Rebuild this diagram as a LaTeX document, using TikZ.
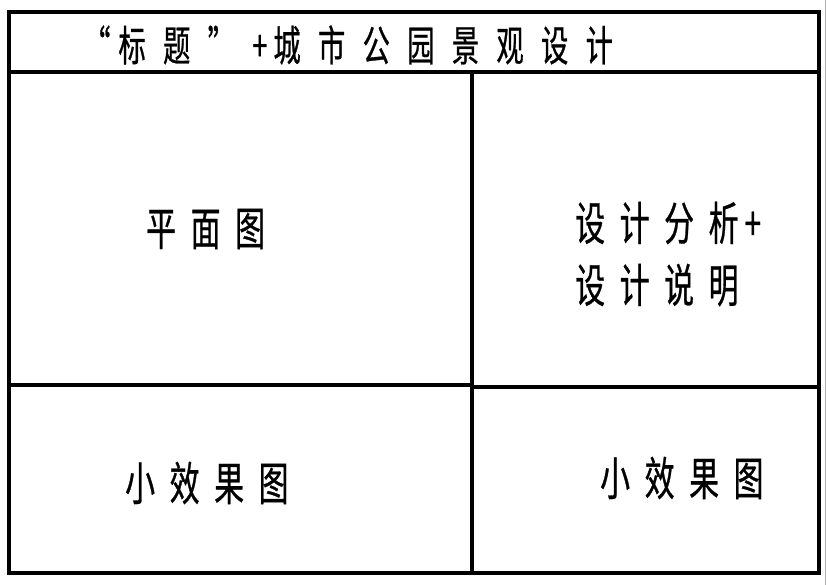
\documentclass[tikz,border=0pt]{standalone}
\usepackage{fontspec}
\newfontfamily\cjk[FakeStretch=0.65,FakeBold=0.6]{Noto Sans CJK SC}
\newcommand\gb{\hspace{14.6pt}}
\newcommand\gt{\hspace{17.3pt}}
\begin{document}
\begin{tikzpicture}[x=1pt,y=-1pt,
  frame/.style={line width=4.5pt,line cap=rect},
  divider/.style={line width=3.6pt},
  bodytext/.style={inner sep=0pt,anchor=west,font=\cjk\fontsize{46}{62}\selectfont,align=left},
  titletext/.style={inner sep=0pt,anchor=west,font=\cjk\fontsize{42}{45}\selectfont}]
\useasboundingbox[fill=white] (0,0) rectangle (828,585);
% thin edge line at right
\draw[gray!60,line width=0.8pt] (825,0) -- (825,585);
% outer frame and dividers
\draw[frame] (9,12) rectangle (819,573);
\draw[line width=4pt] (9,72) -- (819,72);
\draw[divider] (472,72) -- (472,573);
\draw[line width=4.5pt] (9,385) -- (472,385);
\draw[divider] (472,387) -- (819,387);
% texts
\node[titletext] (title) at (83,45) {“\kern8pt 标\gt 题\gt ”\gt +\kern6pt 城\gt 市\gt 公\gt 园\gt 景\gt 观\gt 设\gt 计};
\node[bodytext] (plan) at (146,229) {平\gb 面\gb 图};
\node[bodytext] (analysis) at (575,254) {设\gb 计\gb 分\gb 析\kern6pt +\\设\gb 计\gb 说\gb 明};
\node[bodytext] (effectL) at (125,483) {小\gb 效\gb 果\gb 图};
\node[bodytext] (effectR) at (600,478) {小\gb 效\gb 果\gb 图};
\end{tikzpicture}
\end{document}
